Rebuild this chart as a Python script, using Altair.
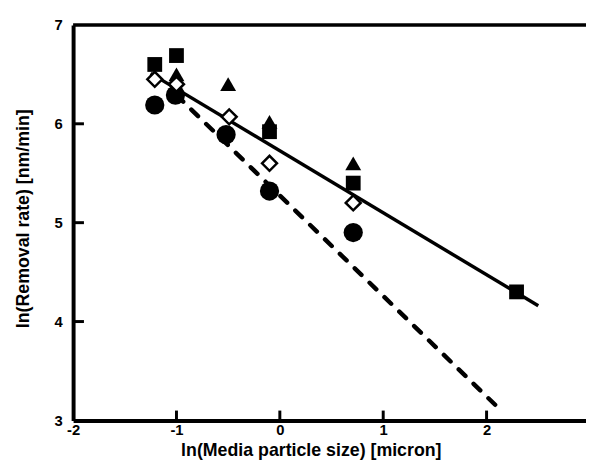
import altair as alt
import pandas as pd

# ---- data ----
sq_x = [-1.21, -1.0, -0.1, 0.71, 2.29]
sq_y = [6.60, 6.69, 5.92, 5.40, 4.30]
tri_x = [-1.0, -0.50, -0.1, 0.71]
tri_y = [6.50, 6.40, 6.02, 5.60]
dia_x = [-1.21, -1.0, -0.49, -0.1, 0.71]
dia_y = [6.45, 6.40, 6.07, 5.60, 5.20]
cir_x = [-1.21, -1.01, -0.52, -0.1, 0.71]
cir_y = [6.19, 6.29, 5.89, 5.32, 4.90]
solid_x = [-1.25, 2.5]
solid_y = [6.51, 4.16]
dash_x = [-1.0, 2.16]
dash_y = [6.29, 3.08]
x_ticks = [-2, -1, 0, 1, 2, 3]
y_ticks = [3, 4, 5, 6, 7]
x_inner_ticks = [-1, 0, 1, 2]
y_inner_ticks = [4, 5, 6]

W, H = 520, 401
FONT = "Liberation Sans"

xscale = alt.Scale(domain=[-2, 3], range=[0, 524], nice=False, zero=False)
yscale = alt.Scale(domain=[3, 7], nice=False, zero=False)

xaxis = alt.Axis(
    values=x_ticks, labelExpr="'' + datum.value", ticks=False, tickSize=0,
    grid=False, labelFlush=False, labelPadding=2,
    labelFont=FONT, labelFontSize=15, labelFontWeight="bold", labelColor="black",
    domainColor="black", domainWidth=4,
    title="ln(Media particle size) [micron]", titleFont=FONT, titleFontSize=18,
    titleFontWeight="bold", titleColor="black", titleBaseline="alphabetic",
    titleAlign="center", titleX=241, titleY=36,
)
yaxis = alt.Axis(
    values=y_ticks, labelExpr="'' + datum.value", ticks=False, tickSize=0,
    grid=False, labelFlush=False, labelPadding=11,
    labelFont=FONT, labelFontSize=15, labelFontWeight="bold", labelColor="black",
    domainColor="black", domainWidth=4,
    title="ln(Removal rate) [nm/min]", titleFont=FONT, titleFontSize=18,
    titleFontWeight="bold", titleColor="black", titleBaseline="alphabetic",
    titleAlign="center", titleAngle=270, titleX=-45, titleY=196,
)


def X(f):
    return alt.X(f, type="quantitative", scale=xscale, axis=xaxis)


def Y(f):
    return alt.Y(f, type="quantitative", scale=yscale, axis=yaxis)


def df(xs, ys):
    return pd.DataFrame({"x": xs, "y": ys})


solid = alt.Chart(df(solid_x, solid_y)).mark_line(
    color="black", strokeWidth=3.5
).encode(x=X("x"), y=Y("y"))

dashed = alt.Chart(df(dash_x, dash_y)).mark_line(
    color="black", strokeWidth=4.5, strokeDash=[9.5, 11.5], strokeCap="round"
).encode(x=X("x"), y=Y("y"))

squares = alt.Chart(df(sq_x, sq_y)).mark_point(
    shape="square", filled=True, color="black", size=225, opacity=1
).encode(x=X("x"), y=Y("y"))

triangles = alt.Chart(df(tri_x, tri_y)).mark_point(
    shape="triangle-up", filled=True, color="black", size=260, opacity=1
).encode(x=X("x"), y=Y("y"))

circles = alt.Chart(df(cir_x, cir_y)).mark_point(
    shape="circle", filled=True, color="black", size=380, opacity=1
).encode(x=X("x"), y=Y("y"))

diamonds = alt.Chart(df(dia_x, dia_y)).mark_point(
    shape="diamond", filled=True, fill="white", stroke="black", strokeWidth=2.5,
    size=230, opacity=1
).encode(x=X("x"), y=Y("y"))

top_border = alt.Chart(pd.DataFrame({"x": [-2], "x2": [3], "y": [7]})).mark_rule(
    color="black", strokeWidth=3.5
).encode(x=X("x"), x2="x2:Q", y=Y("y"))

yt = alt.Chart(pd.DataFrame({"y": y_inner_ticks})).mark_rule(
    color="black", strokeWidth=3
).encode(y=Y("y"), x=alt.value(0), x2=alt.value(11))

xt = alt.Chart(pd.DataFrame({"x": x_inner_ticks})).mark_rule(
    color="black", strokeWidth=3
).encode(x=X("x"), y=alt.value(H), y2=alt.value(H - 10))

chart = alt.layer(
    solid, dashed, top_border, yt, xt, circles, squares, triangles, diamonds
).properties(
    width=W, height=H,
    autosize=alt.AutoSizeParams(type="none"),
    padding={"left": 66, "top": 14, "right": 0, "bottom": 39},
    background="white",
).configure_view(strokeWidth=0)

chart.save("out.html", embed_options={"renderer": "svg", "actions": False})
